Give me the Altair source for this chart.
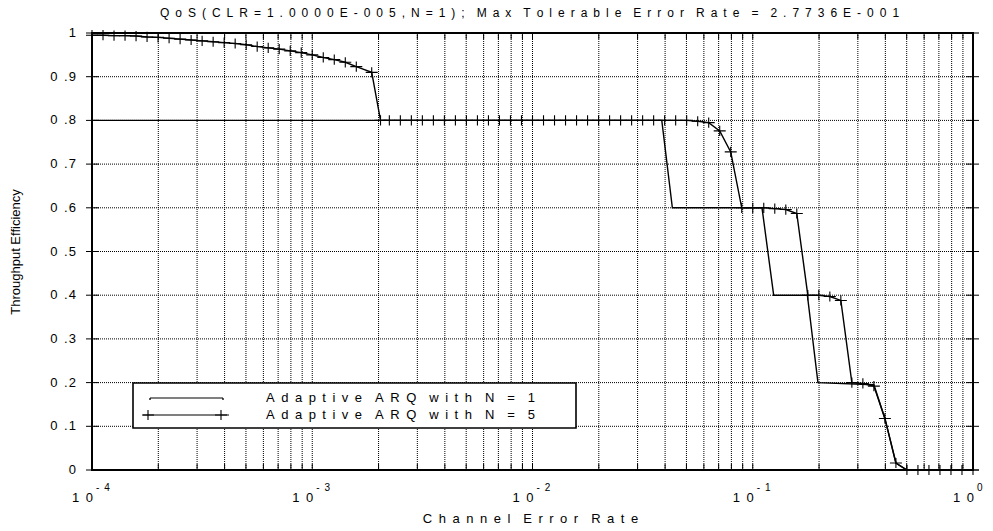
import altair as alt
import pandas as pd

# ---------------- data ----------------
# Adaptive ARQ with N = 5 : log10(channel error rate) and throughput efficiency
n5_exp = [-4.00, -3.95, -3.90, -3.85, -3.80, -3.75, -3.70, -3.65, -3.60, -3.55,
          -3.50, -3.45, -3.40, -3.35, -3.30, -3.25, -3.20, -3.15, -3.10, -3.05,
          -3.00, -2.95, -2.90, -2.85, -2.80, -2.73, -2.69, -2.65, -2.60, -2.55,
          -2.50, -2.45, -2.40, -2.35, -2.30, -2.25, -2.20, -2.15, -2.10, -2.05,
          -2.00, -1.95, -1.90, -1.85, -1.80, -1.75, -1.70, -1.65, -1.60, -1.55,
          -1.50, -1.45, -1.40, -1.35, -1.30, -1.25, -1.20, -1.15, -1.10, -1.05,
          -1.00, -0.95, -0.90, -0.85, -0.80, -0.75, -0.70, -0.65, -0.60, -0.55,
          -0.50, -0.45, -0.40, -0.35, -0.30, -0.25, -0.20, -0.15, -0.10, -0.05,
          0.00]
n5_eff = [0.995, 0.995, 0.994, 0.994, 0.993, 0.991, 0.990, 0.988, 0.986, 0.984,
          0.982, 0.980, 0.978, 0.976, 0.973, 0.969, 0.966, 0.963, 0.959, 0.955,
          0.950, 0.944, 0.939, 0.933, 0.923, 0.910, 0.800, 0.800, 0.800, 0.800,
          0.800, 0.800, 0.800, 0.800, 0.800, 0.800, 0.800, 0.800, 0.800, 0.800,
          0.800, 0.800, 0.800, 0.800, 0.800, 0.800, 0.800, 0.800, 0.800, 0.800,
          0.800, 0.800, 0.800, 0.800, 0.800, 0.798, 0.795, 0.776, 0.728, 0.600,
          0.600, 0.600, 0.598, 0.596, 0.587, 0.400, 0.400, 0.397, 0.388, 0.200,
          0.198, 0.192, 0.118, 0.016, 0.000, 0.000, 0.000, 0.000, 0.000, 0.000,
          0.000]

# Adaptive ARQ with N = 1 : breakpoints of the step curve
n1_exp = [-4.000, -1.413, -1.365, -0.958, -0.905, -0.752, -0.704, -0.45, -0.40, -0.35, -0.30, 0.00]
n1_eff = [0.800, 0.800, 0.600, 0.600, 0.400, 0.400, 0.200, 0.195, 0.118, 0.016, 0.000, 0.000]

# axis ticks / labels
x_decades = [1e-4, 1e-3, 1e-2, 1e-1, 1e0]
x_exponent_labels = ["-4", "-3", "-2", "-1", "0"]
x_minor_mult = [2, 3, 4, 5, 6, 7, 8, 9]
y_ticks = [0.0, 0.1, 0.2, 0.3, 0.4, 0.5, 0.6, 0.7, 0.8, 0.9, 1.0]
y_tick_labels = ["0", "0.1", "0.2", "0.3", "0.4", "0.5", "0.6", "0.7", "0.8", "0.9", "1"]

title_words = ["QoS(CLR=1.0000E-005,N=1);", "Max", "Tolerable", "Error", "Rate", "=", "2.7736E-001"]
x_title_words = ["Channel", "Error", "Rate"]
y_title = "Throughput Efficiency"
legend_words = [["Adaptive", "ARQ", "with", "N", "=", "1"],
                ["Adaptive", "ARQ", "with", "N", "=", "5"]]

# wide letter spacing of the original plotting program
GAP = "\u2002"           # en space between letters
WGAP = "\u2002\u2002"    # wider gap between words


def spaced(words):
    return WGAP.join(GAP.join(w) for w in words)


def spaced_num(s):
    # "0.9" -> "0 .9" style as in the original tick labels
    return s.replace(".", "\u2002.\u200a")


# ---------------- tables ----------------
W, H = 881, 437
FONT = "Liberation Sans"

xs = alt.Scale(type="log", domain=[1e-4, 1], nice=False)
ys = alt.Scale(domain=[0, 1], nice=False, zero=False)

df5 = pd.DataFrame({"x": [10 ** e for e in n5_exp], "y": n5_eff})
df1 = pd.DataFrame({"x": [10 ** e for e in n1_exp], "y": n1_eff})
all_x_ticks = sorted(set(x_decades + [m * d for d in x_decades[:-1] for m in x_minor_mult]))
dfxt = pd.DataFrame({"x": all_x_ticks})
dfxd = pd.DataFrame({"x": x_decades,
                     "sup": [GAP.join(s) for s in x_exponent_labels],
                     "base": [GAP.join("10")] * len(x_decades)})
dfyt = pd.DataFrame({"y": y_ticks, "lab": [spaced_num(s) for s in y_tick_labels]})
one = pd.DataFrame({"a": [0]})

X = lambda: alt.X("x:Q", scale=xs, axis=None)
Y = lambda: alt.Y("y:Q", scale=ys, axis=None)

layers = []

# grid
layers.append(alt.Chart(dfxt).mark_rule(color="black", strokeWidth=1, strokeDash=[1, 1])
              .encode(x=X(), y=alt.value(0), y2=alt.value(H)))
layers.append(alt.Chart(dfyt[(dfyt.y > 0) & (dfyt.y < 1)]).mark_rule(color="black", strokeWidth=1, strokeDash=[1, 1])
              .encode(y=Y(), x=alt.value(0), x2=alt.value(W)))

# inward ticks
layers.append(alt.Chart(dfxt).mark_rule(color="black", strokeWidth=1)
              .encode(x=X(), y=alt.value(H), y2=alt.value(H - 6)))
layers.append(alt.Chart(dfxt).mark_rule(color="black", strokeWidth=1)
              .encode(x=X(), y=alt.value(0), y2=alt.value(6)))
layers.append(alt.Chart(dfyt).mark_rule(color="black", strokeWidth=1)
              .encode(y=Y(), x=alt.value(-6), x2=alt.value(7)))
layers.append(alt.Chart(dfyt).mark_rule(color="black", strokeWidth=1)
              .encode(y=Y(), x=alt.value(W - 7), x2=alt.value(W + 6)))

# frame
layers.append(alt.Chart(one).mark_rect(fill=None, stroke="black", strokeWidth=2)
              .encode(x=alt.value(0), x2=alt.value(W), y=alt.value(0), y2=alt.value(H)))

# curves
layers.append(alt.Chart(df1).mark_line(color="black", strokeWidth=1.4).encode(x=X(), y=Y()))
layers.append(alt.Chart(df5).mark_line(color="black", strokeWidth=1.4).encode(x=X(), y=Y()))
PLUS = "M-1,0L1,0M0,-0.85L0,0.85"
layers.append(alt.Chart(df5).mark_point(shape=PLUS, size=144, filled=False, color="black",
                                        strokeWidth=1.1, opacity=1).encode(x=X(), y=Y()))

# tick labels
layers.append(alt.Chart(dfyt).mark_text(align="right", baseline="middle", fontSize=13, font=FONT, color="black")
              .encode(y=Y(), x=alt.value(-16), text="lab:N"))
layers.append(alt.Chart(dfxd).mark_text(align="right", baseline="middle", fontSize=13, font=FONT, color="black", dx=1)
              .encode(x=X(), y=alt.value(H + 28), text="base:N"))
layers.append(alt.Chart(dfxd).mark_text(align="left", baseline="middle", fontSize=10, font=FONT, color="black", dx=4)
              .encode(x=X(), y=alt.value(H + 18), text="sup:N"))

# titles
layers.append(alt.Chart(one).mark_text(align="center", baseline="middle", fontSize=12, font=FONT, color="black")
              .encode(x=alt.value(W / 2 - 3), y=alt.value(-20), text=alt.value(spaced(title_words))))
layers.append(alt.Chart(one).mark_text(align="center", baseline="middle", fontSize=13, font=FONT, color="black")
              .encode(x=alt.value(W / 2 - 2), y=alt.value(H + 49), text=alt.value(spaced(x_title_words))))
layers.append(alt.Chart(one).mark_text(align="center", baseline="middle", fontSize=13, font=FONT, color="black", angle=270)
              .encode(x=alt.value(-76), y=alt.value(219), text=alt.value(y_title)))

# legend
layers.append(alt.Chart(one).mark_rect(fill="white", stroke="black", strokeWidth=1.6)
              .encode(x=alt.value(41), x2=alt.value(484), y=alt.value(350), y2=alt.value(395)))
layers.append(alt.Chart(one).mark_rule(color="black", strokeWidth=1.2)
              .encode(x=alt.value(58), x2=alt.value(131), y=alt.value(365)))
layers.append(alt.Chart(one).mark_rule(color="black", strokeWidth=1.2)
              .encode(x=alt.value(51), x2=alt.value(137), y=alt.value(382)))
for px in (56, 129):
    layers.append(alt.Chart(one).mark_point(shape=PLUS, size=144, filled=False, color="black",
                                            strokeWidth=1.1, opacity=1)
                  .encode(x=alt.value(px), y=alt.value(382)))
for px in (58, 131):
    layers.append(alt.Chart(one).mark_point(shape="square", size=3, filled=True, color="black", opacity=1)
                  .encode(x=alt.value(px), y=alt.value(366)))
for i, words in enumerate(legend_words):
    layers.append(alt.Chart(one).mark_text(align="left", baseline="middle", fontSize=13, font=FONT, color="black")
                  .encode(x=alt.value(174), y=alt.value(365 + 17 * i), text=alt.value(spaced(words))))

chart = alt.layer(*layers).properties(
    width=W, height=H,
    padding={"left": 92, "top": 33, "right": 20, "bottom": 61},
    autosize=alt.AutoSizeParams(type="none"),
).configure_view(stroke=None)

chart.save("out.html", embed_options={"renderer": "svg", "actions": False})
